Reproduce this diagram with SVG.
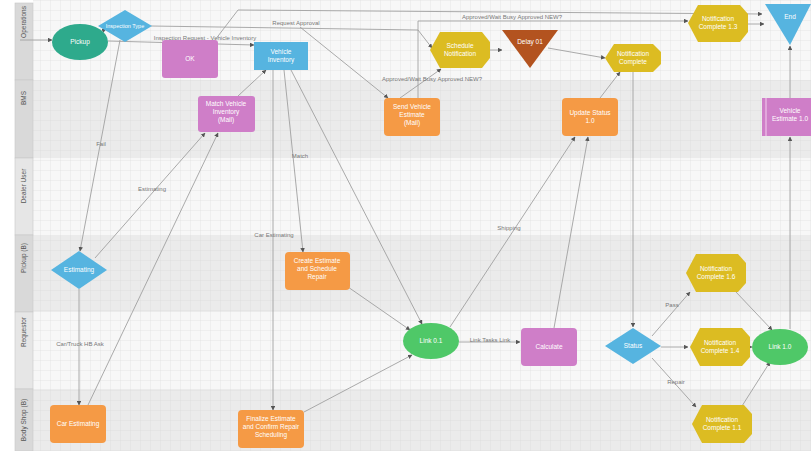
<svg xmlns="http://www.w3.org/2000/svg" width="811" height="451" viewBox="0 0 811 451">
<style>
.lane-w{fill:#f7f7f7}
.lane-g{fill:#ebebeb}
.hdr{fill:#d9d9d9;stroke:#c8c8c8;stroke-width:0.6}
.hdrt{font-family:"Liberation Sans",Arial,sans-serif;font-size:6.5px;fill:#555;text-anchor:middle}
.nt{font-family:"Liberation Sans",Arial,sans-serif;font-size:6.5px;fill:#fff;text-anchor:middle}
.lbl{font-family:"Liberation Sans",Arial,sans-serif;font-size:6px;fill:#777;text-anchor:middle}
.c{fill:none;stroke:#a0a0a0;stroke-width:0.9;marker-end:url(#ah)}
.yel{fill:#dcbc22}
.org{fill:#f59a45}
.pnk{fill:#cf7ec8}
.blu{fill:#56b4e0}
.teal{fill:#2eaa8c}
.grn{fill:#4fc868}
.brn{fill:#b3531f}
</style>
<defs>
<pattern id="grid" width="10" height="10" patternUnits="userSpaceOnUse">
<path d="M10 0H0V10" fill="none" stroke="#d2d2d2" stroke-width="0.5"/>
</pattern>
<marker id="ah" viewBox="0 0 10 10" refX="9" refY="5" markerWidth="5" markerHeight="5" orient="auto">
<path d="M0 0L10 5L0 10z" fill="#555"/>
</marker>
</defs>
<rect width="811" height="451" fill="#fff"/>
<g id="lanes">
<rect class="lane-w" x="33" y="0" width="778" height="80"/>
<rect class="lane-g" x="33" y="80" width="778" height="78"/>
<rect class="lane-w" x="33" y="158" width="778" height="77"/>
<rect class="lane-g" x="33" y="235" width="778" height="77"/>
<rect class="lane-w" x="33" y="312" width="778" height="77"/>
<rect class="lane-g" x="33" y="389" width="778" height="62"/>
<rect x="33" y="0" width="778" height="451" fill="url(#grid)"/>
<rect class="hdr" x="15" y="3" width="18" height="77"/>
<rect class="hdr" x="15" y="80" width="18" height="78"/>
<rect class="hdr" x="15" y="158" width="18" height="77" style="fill:#e6e6e6"/>
<rect class="hdr" x="15" y="235" width="18" height="77"/>
<rect class="hdr" x="15" y="312" width="18" height="77" style="fill:#e6e6e6"/>
<rect class="hdr" x="15" y="389" width="18" height="62"/>
<text class="hdrt" transform="translate(26,22) rotate(-90)">Operations</text>
<text class="hdrt" transform="translate(26,98) rotate(-90)">BMS</text>
<text class="hdrt" transform="translate(26,186) rotate(-90)">Dealer User</text>
<text class="hdrt" transform="translate(26,258) rotate(-90)">Pickup (B)</text>
<text class="hdrt" transform="translate(26,332) rotate(-90)">Requestor</text>
<text class="hdrt" transform="translate(26,420) rotate(-90)">Body Shop (B)</text>
</g>
<g id="connectors">
<path class="c" d="M20 40H52"/>
<path class="c" d="M100 32L106 29"/>
<path class="c" d="M120 40L80 251"/>
<text class="lbl" x="101" y="146">Fail</text>
<path class="c" d="M108 41L254 45"/>
<text class="lbl" x="205" y="40">Inspection Request - Vehicle Inventory</text>
<path class="c" d="M151 26L418 30L432 48"/>
<path class="c" d="M215 40L238 10L762 14"/>
<text class="lbl" x="296" y="25">Request Approval</text>
<path class="c" d="M300 27L388 98"/>
<path class="c" d="M418 98V21H688"/>
<text class="lbl" x="512" y="19">Approved/Wait Busy Approved NEW?</text>
<path class="c" d="M400 98L441 69"/>
<text class="lbl" x="432" y="81">Approved/Wait Busy Approved NEW?</text>
<path class="c" d="M490 50H502"/>
<path class="c" d="M548 48L605 58"/>
<path class="c" d="M748 24H764"/>
<path class="c" d="M633 72V327"/>
<path class="c" d="M600 98L620 72"/>
<path class="c" d="M238 96L266 70"/>
<path class="c" d="M284 70L303 252"/>
<text class="lbl" x="300" y="158">Match</text>
<path class="c" d="M273 70V410"/>
<text class="lbl" x="274" y="237">Car Estimating</text>
<path class="c" d="M291 70L422 324"/>
<path class="c" d="M95 258L205 133"/>
<text class="lbl" x="152" y="191">Estimating</text>
<path class="c" d="M88 405L218 133"/>
<path class="c" d="M79 289V405"/>
<text class="lbl" x="80" y="346">Car/Truck HB Ask</text>
<path class="c" d="M348 287L410 330"/>
<path class="c" d="M304 412L412 355"/>
<path class="c" d="M459 342H520"/>
<text class="lbl" x="490" y="342">Link Tasks Link</text>
<path class="c" d="M450 327L575 137"/>
<text class="lbl" x="509" y="230">Shipping</text>
<path class="c" d="M554 328L588 137"/>
<path class="c" d="M652 336L690 292"/>
<text class="lbl" x="672" y="307">Pass</text>
<path class="c" d="M661 347H688"/>
<path class="c" d="M652 358L696 407"/>
<text class="lbl" x="676" y="384">Repair</text>
<path class="c" d="M736 292L772 330"/>
<path class="c" d="M750 347H752"/>
<path class="c" d="M742 406L770 362"/>
<path class="c" d="M790 329V137"/>
<path class="c" d="M790 98V46"/>
</g>
<g id="n-pickup"><ellipse class="teal" cx="80" cy="42" rx="28" ry="18"/><text class="nt" x="80" y="44">Pickup</text></g>
<g id="n-insp"><polygon class="blu" points="98,26 125,10 152,26 125,42"/><text class="nt" x="125" y="28" style="font-size:5.5px">Inspection Type</text></g>
<g id="n-ok"><rect class="pnk" x="162" y="40" width="56" height="38" rx="3"/><text class="nt" x="190" y="61">OK</text></g>
<g id="n-vinv"><rect class="blu" x="254" y="42" width="54" height="28"/><text class="nt" x="281" y="54">Vehicle<tspan x="281" dy="8">Inventory</tspan></text></g>
<g id="n-sched"><polygon class="yel" points="430,50 440,32 482,32 490,42 490,58 482,68 440,68"/><text class="nt" x="460" y="48">Schedule<tspan x="460" dy="8">Notification</tspan></text></g>
<g id="n-delay"><polygon class="brn" points="502,30 558,30 530,68"/><text class="nt" x="530" y="44">Delay 01</text></g>
<g id="n-ncomp"><polygon class="yel" points="605,58 614,44 653,44 661,52 661,64 653,72 614,72"/><text class="nt" x="633" y="56">Notification<tspan x="633" dy="8">Complete</tspan></text></g>
<g id="n-nc13"><polygon class="yel" points="688,23 698,5 740,5 748,14 748,32 740,42 698,42"/><text class="nt" x="718" y="21">Notification<tspan x="718" dy="8">Complete 1.3</tspan></text></g>
<g id="n-end"><polygon class="blu" points="765,4 811,4 790,45"/><text class="nt" x="790" y="19">End</text></g>
<g id="n-match"><rect class="pnk" x="198" y="96" width="57" height="36" rx="3"/><text class="nt" x="226" y="106">Match Vehicle<tspan x="226" dy="8">Inventory</tspan><tspan x="226" dy="8">(Mail)</tspan></text></g>
<g id="n-send"><rect class="org" x="384" y="98" width="56" height="38" rx="4"/><text class="nt" x="412" y="109">Send Vehicle<tspan x="412" dy="8">Estimate</tspan><tspan x="412" dy="8">(Mail)</tspan></text></g>
<g id="n-upd"><rect class="org" x="562" y="98" width="56" height="38" rx="4"/><text class="nt" x="590" y="115">Update Status<tspan x="590" dy="8">1.0</tspan></text></g>
<g id="n-vest"><rect class="pnk" x="762" y="98" width="49" height="38"/><line x1="766" y1="98" x2="766" y2="136" stroke="#f4d0ef" stroke-width="1"/><text class="nt" x="790" y="113">Vehicle<tspan x="790" dy="8">Estimate 1.0</tspan></text></g>
<g id="n-estim"><polygon class="blu" points="51,270 79,251 107,270 79,289"/><text class="nt" x="79" y="272">Estimating</text></g>
<g id="n-create"><rect class="org" x="285" y="252" width="65" height="38" rx="4"/><text class="nt" x="317" y="263">Create Estimate<tspan x="317" dy="8">and Schedule</tspan><tspan x="317" dy="8">Repair</tspan></text></g>
<g id="n-link01"><ellipse class="grn" cx="431" cy="341" rx="28" ry="18"/><text class="nt" x="431" y="343">Link 0.1</text></g>
<g id="n-calc"><rect class="pnk" x="521" y="328" width="56" height="38" rx="4"/><text class="nt" x="549" y="349">Calculate</text></g>
<g id="n-status"><polygon class="blu" points="605,346 633,328 661,346 633,364"/><text class="nt" x="633" y="348">Status</text></g>
<g id="n-nc16"><polygon class="yel" points="686,273 696,254 738,254 746,263 746,283 738,292 696,292"/><text class="nt" x="716" y="271">Notification<tspan x="716" dy="8">Complete 1.6</tspan></text></g>
<g id="n-nc14"><polygon class="yel" points="690,347 700,328 742,328 750,337 750,357 742,366 700,366"/><text class="nt" x="720" y="345">Notification<tspan x="720" dy="8">Complete 1.4</tspan></text></g>
<g id="n-link10"><ellipse class="grn" cx="780" cy="347" rx="28" ry="18"/><text class="nt" x="780" y="349">Link 1.0</text></g>
<g id="n-nc11"><polygon class="yel" points="692,424 702,405 744,405 752,414 752,434 744,443 702,443"/><text class="nt" x="722" y="422">Notification<tspan x="722" dy="8">Complete 1.1</tspan></text></g>
<g id="n-carest"><rect class="org" x="50" y="405" width="56" height="38" rx="4"/><text class="nt" x="78" y="426">Car Estimating</text></g>
<g id="n-final"><rect class="org" x="238" y="410" width="66" height="38" rx="4"/><text class="nt" x="271" y="421">Finalize Estimate<tspan x="271" dy="8">and Confirm Repair</tspan><tspan x="271" dy="8">Scheduling</tspan></text></g>
</svg>
